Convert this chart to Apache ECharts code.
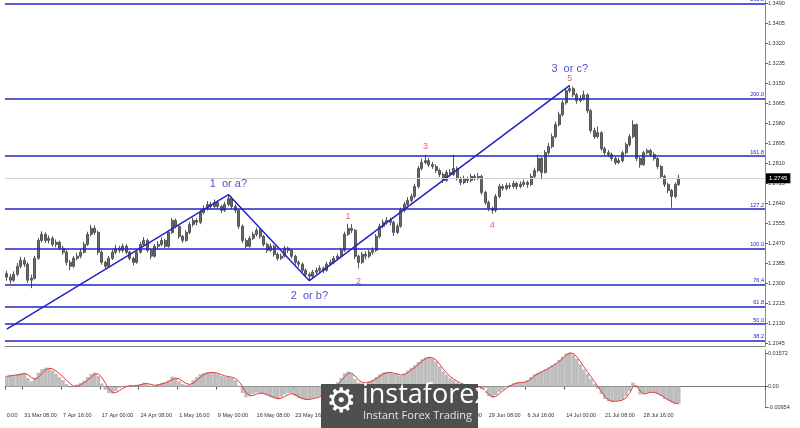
<!DOCTYPE html>
<html>
<head>
<meta charset="utf-8">
<script src="https://cdn.jsdelivr.net/npm/echarts@6/dist/echarts.min.js"></script>
<style>
  html, body { margin: 0; padding: 0; background: #fff; }
  #chart { width: 800px; height: 428px; }
</style>
</head>
<body>
<div id="chart"></div>
<script>
// GBPUSD H4, one point = 4 H4 bars (open of a point = close of the previous one)
const firstOpen = 1.2340
const closes = [
  1.2325, 1.2312, 1.2337, 1.2371, 1.2397, 1.2380, 1.2312, 1.2320, 1.2405, 1.2481,
  1.2507, 1.2481, 1.2490, 1.2464, 1.2473, 1.2448, 1.2431, 1.2388, 1.2371, 1.2405,
  1.2414, 1.2431, 1.2464, 1.2507, 1.2532, 1.2515, 1.2431, 1.2388, 1.2371, 1.2405,
  1.2431, 1.2448, 1.2439, 1.2456, 1.2431, 1.2405, 1.2388, 1.2431, 1.2464, 1.2481,
  1.2439, 1.2414, 1.2456, 1.2464, 1.2481, 1.2456, 1.2515, 1.2566, 1.2541, 1.2498,
  1.2481, 1.2515, 1.2549, 1.2566, 1.2558, 1.2600, 1.2617, 1.2634, 1.2625, 1.2642,
  1.2625, 1.2609, 1.2634, 1.2659, 1.2625, 1.2609, 1.2541, 1.2481, 1.2456, 1.2490,
  1.2507, 1.2524, 1.2498, 1.2464, 1.2439, 1.2456, 1.2422, 1.2405, 1.2414, 1.2448,
  1.2439, 1.2414, 1.2388, 1.2380, 1.2354, 1.2337, 1.2329, 1.2346, 1.2354, 1.2363,
  1.2354, 1.2380, 1.2388, 1.2405, 1.2414, 1.2439, 1.2507, 1.2532, 1.2524, 1.2414,
  1.2388, 1.2422, 1.2414, 1.2431, 1.2439, 1.2498, 1.2541, 1.2558, 1.2566, 1.2558,
  1.2515, 1.2541, 1.2609, 1.2634, 1.2651, 1.2668, 1.2710, 1.2787, 1.2812, 1.2820,
  1.2803, 1.2795, 1.2778, 1.2761, 1.2736, 1.2770, 1.2761, 1.2787, 1.2744, 1.2727,
  1.2744, 1.2736, 1.2753, 1.2744, 1.2753, 1.2685, 1.2642, 1.2617, 1.2609, 1.2668,
  1.2710, 1.2702, 1.2714, 1.2710, 1.2723, 1.2710, 1.2719, 1.2727, 1.2719, 1.2753,
  1.2778, 1.2829, 1.2770, 1.2854, 1.2880, 1.2922, 1.2973, 1.3015, 1.3066, 1.3117,
  1.3126, 1.3100, 1.3075, 1.3083, 1.3100, 1.3032, 1.2948, 1.2922, 1.2939, 1.2871,
  1.2854, 1.2846, 1.2829, 1.2812, 1.2820, 1.2854, 1.2888, 1.2922, 1.2973, 1.2829,
  1.2803, 1.2854, 1.2863, 1.2846, 1.2829, 1.2795, 1.2753, 1.2719, 1.2693, 1.2668,
  1.2719, 1.2745
]
const highs = [
  1.2352, 1.2338, 1.2350, 1.2385, 1.2412, 1.2410, 1.2388, 1.2335, 1.2415, 1.2492,
  1.2520, 1.2515, 1.2502, 1.2498, 1.2485, 1.2480, 1.2458, 1.2440, 1.2398, 1.2415,
  1.2428, 1.2445, 1.2475, 1.2518, 1.2548, 1.2545, 1.2522, 1.2440, 1.2395, 1.2415,
  1.2442, 1.2462, 1.2458, 1.2468, 1.2465, 1.2438, 1.2412, 1.2440, 1.2475, 1.2495,
  1.2488, 1.2445, 1.2466, 1.2478, 1.2494, 1.2488, 1.2524, 1.2576, 1.2574, 1.2548,
  1.2505, 1.2525, 1.2560, 1.2578, 1.2575, 1.2612, 1.2630, 1.2648, 1.2645, 1.2655,
  1.2650, 1.2632, 1.2645, 1.2675, 1.2668, 1.2635, 1.2615, 1.2548, 1.2490, 1.2500,
  1.2518, 1.2535, 1.2530, 1.2505, 1.2472, 1.2468, 1.2462, 1.2430, 1.2425, 1.2458,
  1.2455, 1.2445, 1.2420, 1.2396, 1.2388, 1.2362, 1.2345, 1.2356, 1.2366, 1.2375,
  1.2370, 1.2390, 1.2400, 1.2415, 1.2425, 1.2450, 1.2518, 1.2552, 1.2550, 1.2530,
  1.2420, 1.2432, 1.2435, 1.2442, 1.2452, 1.2508, 1.2552, 1.2570, 1.2580, 1.2578,
  1.2565, 1.2552, 1.2620, 1.2645, 1.2665, 1.2680, 1.2722, 1.2798, 1.2828, 1.2845,
  1.2832, 1.2815, 1.2805, 1.2786, 1.2770, 1.2780, 1.2785, 1.2845, 1.2795, 1.2752,
  1.2756, 1.2752, 1.2765, 1.2762, 1.2768, 1.2760, 1.2692, 1.2650, 1.2625, 1.2678,
  1.2722, 1.2720, 1.2725, 1.2726, 1.2735, 1.2730, 1.2732, 1.2740, 1.2735, 1.2765,
  1.2790, 1.2845, 1.2835, 1.2865, 1.2895, 1.2935, 1.2985, 1.3028, 1.3078, 1.3128,
  1.3140, 1.3135, 1.3108, 1.3098, 1.3118, 1.3106, 1.3040, 1.2960, 1.2965, 1.2945,
  1.2880, 1.2865, 1.2855, 1.2838, 1.2832, 1.2862, 1.2898, 1.2932, 1.2992, 1.2978,
  1.2838, 1.2862, 1.2872, 1.2870, 1.2855, 1.2835, 1.2802, 1.2760, 1.2726, 1.2700,
  1.2728, 1.2760
]
const lows = [
  1.2310, 1.2298, 1.2305, 1.2330, 1.2362, 1.2368, 1.2300, 1.2278, 1.2315, 1.2398,
  1.2472, 1.2470, 1.2468, 1.2455, 1.2452, 1.2440, 1.2420, 1.2375, 1.2354, 1.2365,
  1.2396, 1.2405, 1.2425, 1.2458, 1.2498, 1.2505, 1.2420, 1.2378, 1.2360, 1.2365,
  1.2398, 1.2422, 1.2428, 1.2430, 1.2422, 1.2396, 1.2375, 1.2382, 1.2425, 1.2458,
  1.2430, 1.2402, 1.2408, 1.2446, 1.2455, 1.2448, 1.2450, 1.2508, 1.2532, 1.2488,
  1.2470, 1.2475, 1.2508, 1.2540, 1.2545, 1.2550, 1.2592, 1.2608, 1.2612, 1.2616,
  1.2615, 1.2598, 1.2602, 1.2626, 1.2615, 1.2598, 1.2530, 1.2470, 1.2445, 1.2450,
  1.2482, 1.2498, 1.2488, 1.2455, 1.2428, 1.2432, 1.2412, 1.2395, 1.2398, 1.2408,
  1.2428, 1.2405, 1.2378, 1.2368, 1.2345, 1.2326, 1.2310, 1.2320, 1.2338, 1.2345,
  1.2342, 1.2348, 1.2372, 1.2380, 1.2396, 1.2406, 1.2432, 1.2500, 1.2512, 1.2402,
  1.2362, 1.2380, 1.2400, 1.2405, 1.2420, 1.2432, 1.2490, 1.2532, 1.2548, 1.2545,
  1.2500, 1.2508, 1.2535, 1.2600, 1.2625, 1.2642, 1.2660, 1.2702, 1.2778, 1.2805,
  1.2792, 1.2785, 1.2768, 1.2750, 1.2725, 1.2730, 1.2752, 1.2755, 1.2735, 1.2716,
  1.2720, 1.2725, 1.2728, 1.2735, 1.2738, 1.2675, 1.2632, 1.2605, 1.2594, 1.2600,
  1.2660, 1.2692, 1.2694, 1.2700, 1.2702, 1.2698, 1.2702, 1.2710, 1.2705, 1.2712,
  1.2745, 1.2770, 1.2740, 1.2765, 1.2845, 1.2872, 1.2915, 1.2965, 1.3008, 1.3058,
  1.3108, 1.3090, 1.3062, 1.3068, 1.3076, 1.3022, 1.2938, 1.2912, 1.2915, 1.2862,
  1.2842, 1.2835, 1.2818, 1.2802, 1.2805, 1.2812, 1.2846, 1.2880, 1.2915, 1.2818,
  1.2790, 1.2798, 1.2846, 1.2836, 1.2820, 1.2785, 1.2742, 1.2708, 1.2682, 1.2620,
  1.2660, 1.2712
]
// MACD main (grey histogram) and signal (red)
const macd = [
  0.0050, 0.0055, 0.0052, 0.0058, 0.0062, 0.0065, 0.0040, 0.0025, 0.0040, 0.0065,
  0.0082, 0.0089, 0.0085, 0.0075, 0.0060, 0.0045, 0.0030, 0.0012, 0.0000, -0.0003,
  0.0010, 0.0018, 0.0028, 0.0045, 0.0060, 0.0066, 0.0050, 0.0015, -0.0015, -0.0030,
  -0.0033, -0.0020, -0.0005, 0.0002, 0.0004, 0.0005, 0.0003, 0.0008, 0.0012, 0.0019,
  0.0010, 0.0002, 0.0005, 0.0012, 0.0018, 0.0020, 0.0030, 0.0047, 0.0040, 0.0025,
  0.0012, 0.0008, 0.0010, 0.0030, 0.0045, 0.0058, 0.0064, 0.0067, 0.0068, 0.0064,
  0.0058, 0.0050, 0.0046, 0.0045, 0.0040, 0.0030, 0.0005, -0.0030, -0.0050, -0.0045,
  -0.0035, -0.0028, -0.0030, -0.0035, -0.0042, -0.0050, -0.0056, -0.0060, -0.0050, -0.0038,
  -0.0030, -0.0034, -0.0045, -0.0055, -0.0060, -0.0062, -0.0058, -0.0055, -0.0050, -0.0045,
  -0.0038, -0.0025, -0.0010, 0.0005, 0.0020, 0.0040, 0.0062, 0.0070, 0.0060, 0.0035,
  0.0019, 0.0015, 0.0018, 0.0025, 0.0032, 0.0045, 0.0058, 0.0066, 0.0068, 0.0066,
  0.0060, 0.0058, 0.0050, 0.0062, 0.0075, 0.0088, 0.0100, 0.0115, 0.0128, 0.0136,
  0.0140, 0.0132, 0.0118, 0.0095, 0.0070, 0.0055, 0.0040, 0.0030, 0.0019, 0.0012,
  0.0008, 0.0005, 0.0003, 0.0002, 0.0000, -0.0012, -0.0030, -0.0045, -0.0051, -0.0040,
  -0.0025, -0.0014, -0.0002, 0.0008, 0.0015, 0.0019, 0.0020, 0.0021, 0.0030, 0.0045,
  0.0058, 0.0065, 0.0072, 0.0080, 0.0090, 0.0100, 0.0110, 0.0125, 0.0140, 0.0155,
  0.0159, 0.0150, 0.0130, 0.0105, 0.0080, 0.0060, 0.0035, 0.0012, -0.0010, -0.0035,
  -0.0058, -0.0068, -0.0070, -0.0068, -0.0066, -0.0061, -0.0045, -0.0020, 0.0019, -0.0005,
  -0.0037, -0.0035, -0.0028, -0.0026, -0.0028, -0.0035, -0.0045, -0.0058, -0.0065, -0.0075,
  -0.0082, -0.0078
]
const signal = [
  0.0048, 0.0050, 0.0053, 0.0054, 0.0057, 0.0061, 0.0056, 0.0043, 0.0035, 0.0043,
  0.0062, 0.0078, 0.0086, 0.0083, 0.0073, 0.0060, 0.0045, 0.0029, 0.0014, 0.0003,
  0.0002, 0.0008, 0.0018, 0.0030, 0.0044, 0.0057, 0.0059, 0.0044, 0.0017, -0.0010,
  -0.0026, -0.0028, -0.0019, -0.0008, 0.0000, 0.0004, 0.0004, 0.0005, 0.0008, 0.0013,
  0.0014, 0.0010, 0.0006, 0.0007, 0.0012, 0.0017, 0.0023, 0.0033, 0.0040, 0.0036,
  0.0025, 0.0015, 0.0010, 0.0016, 0.0029, 0.0044, 0.0056, 0.0063, 0.0066, 0.0066,
  0.0062, 0.0056, 0.0050, 0.0047, 0.0044, 0.0038, 0.0024, 0.0000, -0.0028, -0.0042,
  -0.0042, -0.0035, -0.0031, -0.0032, -0.0037, -0.0044, -0.0050, -0.0056, -0.0055, -0.0047,
  -0.0037, -0.0033, -0.0038, -0.0047, -0.0055, -0.0060, -0.0060, -0.0057, -0.0053, -0.0048,
  -0.0042, -0.0032, -0.0020, -0.0007, 0.0008, 0.0025, 0.0045, 0.0062, 0.0063, 0.0050,
  0.0030, 0.0020, 0.0017, 0.0020, 0.0027, 0.0036, 0.0048, 0.0059, 0.0065, 0.0066,
  0.0063, 0.0060, 0.0054, 0.0056, 0.0066, 0.0079, 0.0091, 0.0105, 0.0119, 0.0130,
  0.0136, 0.0135, 0.0125, 0.0106, 0.0083, 0.0064, 0.0048, 0.0036, 0.0025, 0.0016,
  0.0010, 0.0006, 0.0004, 0.0002, 0.0001, -0.0006, -0.0020, -0.0036, -0.0048, -0.0046,
  -0.0033, -0.0020, -0.0008, 0.0003, 0.0011, 0.0017, 0.0019, 0.0020, 0.0025, 0.0036,
  0.0050, 0.0060, 0.0068, 0.0076, 0.0085, 0.0095, 0.0105, 0.0118, 0.0132, 0.0147,
  0.0157, 0.0155, 0.0140, 0.0118, 0.0093, 0.0070, 0.0047, 0.0024, 0.0001, -0.0022,
  -0.0046, -0.0062, -0.0069, -0.0069, -0.0067, -0.0063, -0.0053, -0.0032, 0.0000, 0.0005,
  -0.0020, -0.0034, -0.0031, -0.0027, -0.0027, -0.0032, -0.0040, -0.0052, -0.0062, -0.0070,
  -0.0078, -0.0080
]

const slotCount = 216
const timeLabels = ['0:00', '31 Mar 08:00', '7 Apr 16:00', '17 Apr 00:00', '24 Apr 08:00',
  '1 May 16:00', '9 May 00:00', '16 May 08:00', '23 May 16:00', '31 May 00:00', '7 Jun 08:00',
  '14 Jun 16:00', '22 Jun 00:00', '29 Jun 08:00', '6 Jul 16:00', '14 Jul 00:00', '21 Jul 08:00',
  '28 Jul 16:00']
const labelSlots = [0, 5, 16, 27, 38, 49, 60, 71, 82, 93, 104, 115, 126, 137, 148, 159, 170, 181]

const priceTicks = [1.2045, 1.2130, 1.2215, 1.2300, 1.2385, 1.2470, 1.2555, 1.2640, 1.2725,
  1.2810, 1.2895, 1.2980, 1.3065, 1.3150, 1.3235, 1.3320, 1.3405, 1.3490]
const macdTicks = [-0.00954, 0, 0.01572]
const lastPrice = 1.2745

const fibNames = ['261.8', '200.0', '161.8', '127.2', '100.0', '76.4', '61.8', '50.0', '38.2']
const fibLevels = [1.3486, 1.3083, 1.2839, 1.2614, 1.2446, 1.2294, 1.2199, 1.2125, 1.2055]

const wavePath = [[0, 1.2104], [63, 1.2676], [86, 1.2310], [160, 1.3140]]
const bigWaveNames = ['1  or a?', '2  or b?', '3  or c?']
const bigWaveSlots = [63, 86, 160]
const bigWavePrices = [1.2723, 1.2244, 1.3210]
const subWaveNames = ['1', '2', '3', '4', '5']
const subWaveSlots = [97, 100, 119, 138, 160]
const subWavePrices = [1.2583, 1.2308, 1.2880, 1.2545, 1.3168]

const BLUE = '#2323c8'
const RED = '#e8383c'
const FONT = 'Liberation Sans'

const cats = []
for (let i = 0; i < slotCount; i++) cats.push('')
labelSlots.forEach((s, k) => { cats[s] = timeLabels[k] })
const hasLabel = (idx) => cats[idx] !== ''

const candles = closes.map((c, i) => [i ? closes[i - 1] : firstOpen, c, lows[i], highs[i]])

const levelLines = fibLevels.map((v, k) => ({
  yAxis: v,
  lineStyle: { color: BLUE, width: 1.5, type: 'solid' },
  label: {
    show: true, formatter: fibNames[k], position: 'insideEndTop', distance: [1, 1],
    color: BLUE, fontSize: 5.5, fontFamily: FONT,
  },
}))
levelLines.unshift({
  yAxis: lastPrice,
  lineStyle: { color: '#d0d0d0', width: 1, type: 'solid' },
  label: {
    show: true, formatter: lastPrice.toFixed(4), position: 'end', distance: 1,
    color: '#fff', backgroundColor: '#000', padding: [2, 3], fontSize: 6, fontFamily: FONT,
  },
})

const chart = echarts.init(document.getElementById('chart'))
chart.setOption({
  animation: false,
  backgroundColor: '#fff',
  grid: [
    { left: 5, right: 35, top: 0, height: 346 },
    { left: 5, right: 35, top: 350, height: 58 },
  ],
  xAxis: [
    {
      type: 'category', gridIndex: 0, data: cats, boundaryGap: true,
      axisLine: { lineStyle: { color: '#8a8a8a', width: 1 } },
      axisTick: { show: false }, axisLabel: { show: false }, splitLine: { show: false },
    },
    {
      type: 'category', gridIndex: 1, data: cats, boundaryGap: true,
      axisLine: { lineStyle: { color: '#777', width: 1 } },
      axisTick: { show: true, interval: hasLabel, length: 3, lineStyle: { color: '#555' } },
      axisLabel: {
        interval: hasLabel, align: 'left', margin: 4,
        fontSize: 5.5, color: '#333', fontFamily: FONT,
      },
      splitLine: { show: false },
    },
  ],
  yAxis: [
    {
      type: 'value', gridIndex: 0, position: 'right', min: 1.20323, max: 1.34985,
      axisLine: { show: true, lineStyle: { color: '#8a8a8a' } },
      axisTick: { show: true, length: 3, customValues: priceTicks, lineStyle: { color: '#666' } },
      axisLabel: {
        customValues: priceTicks, formatter: (v) => v.toFixed(4), margin: 3,
        fontSize: 5.5, color: '#333', fontFamily: FONT,
      },
      splitLine: { show: false },
    },
    {
      type: 'value', gridIndex: 1, position: 'right', min: -0.01001, max: 0.01712,
      axisLine: { show: true, lineStyle: { color: '#8a8a8a' } },
      axisTick: { show: true, length: 3, customValues: macdTicks, lineStyle: { color: '#666' } },
      axisLabel: {
        customValues: macdTicks, formatter: (v) => (v === 0 ? '0.00' : String(v)), margin: 3,
        fontSize: 5.5, color: '#333', fontFamily: FONT,
      },
      splitLine: { show: false },
    },
  ],
  series: [
    {
      name: 'GBPUSD', type: 'candlestick', xAxisIndex: 0, yAxisIndex: 0,
      data: candles, barWidth: 2.5,
      itemStyle: { color: '#6a6a6a', color0: '#6a6a6a', borderColor: '#555', borderColor0: '#555', borderWidth: 1 },
      z: 3,
    },
    {
      name: 'waves', type: 'line', xAxisIndex: 0, yAxisIndex: 0,
      data: wavePath, symbol: 'none', lineStyle: { color: BLUE, width: 1.5 }, z: 4,
      markLine: { silent: true, symbol: 'none', precision: 4, data: levelLines },
    },
    {
      name: 'big waves', type: 'scatter', xAxisIndex: 0, yAxisIndex: 0,
      data: bigWaveSlots.map((s, k) => [s, bigWavePrices[k]]),
      symbolSize: 1, itemStyle: { color: 'transparent' },
      label: {
        show: true, position: 'inside', color: BLUE, fontSize: 11, fontFamily: FONT,
        formatter: (p) => bigWaveNames[p.dataIndex],
      },
      z: 5,
    },
    {
      name: 'sub waves', type: 'scatter', xAxisIndex: 0, yAxisIndex: 0,
      data: subWaveSlots.map((s, k) => [s, subWavePrices[k]]),
      symbolSize: 1, itemStyle: { color: 'transparent' },
      label: {
        show: true, position: 'inside', color: RED, fontSize: 9, fontFamily: FONT,
        formatter: (p) => subWaveNames[p.dataIndex],
      },
      z: 5,
    },
    {
      name: 'MACD', type: 'bar', xAxisIndex: 1, yAxisIndex: 1,
      data: macd, barCategoryGap: '0%', itemStyle: { color: '#bdbdbd' },
    },
    {
      name: 'Signal', type: 'line', xAxisIndex: 1, yAxisIndex: 1,
      data: signal, symbol: 'none', lineStyle: { color: RED, width: 1 }, z: 4,
    },
  ],
  graphic: [
    { type: 'rect', shape: { x: 321, y: 384, width: 157, height: 44 }, style: { fill: '#4f4f4f' }, z: 100 },
    { type: 'text', x: 326, y: 386, z: 101, style: { text: '\u2699', fill: '#fff', font: '34px "DejaVu Sans"' } },
    { type: 'text', x: 362, y: 382, z: 101, style: { text: 'instaforex', fill: '#fff', font: '27px "Open Sans"' } },
    { type: 'text', x: 363, y: 410, z: 101, style: { text: 'Instant Forex Trading', fill: '#e4e4e4', font: '11px "Open Sans"' } },
  ],
})
</script>
</body>
</html>
